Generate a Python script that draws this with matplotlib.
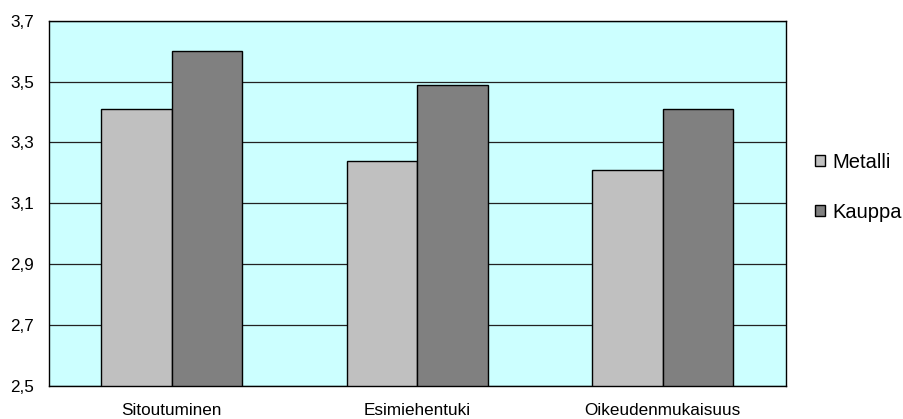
import matplotlib.pyplot as plt
import numpy as np

categories = ["Sitoutuminen", "Esimiehentuki", "Oikeudenmukaisuus"]
metalli = [3.41, 3.24, 3.21]
kauppa = [3.60, 3.49, 3.41]
y_ticks = [2.5, 2.7, 2.9, 3.1, 3.3, 3.5, 3.7]
y_labels = ["2,5", "2,7", "2,9", "3,1", "3,3", "3,5", "3,7"]

plt.rcParams['font.family'] = ['Liberation Sans', 'DejaVu Sans']

fig = plt.figure(figsize=(9.04, 4.19), dpi=100)
ax = fig.add_axes([0.0539, 0.0788, 0.8152, 0.8718])
ax.set_facecolor("#CCFFFF")

x = np.arange(len(categories))
width = 0.287
ax.bar(x - width / 2, [v - 2.5 for v in metalli], width, bottom=2.5,
       color="#C0C0C0", edgecolor="black", linewidth=1.0, label="Metalli", zorder=3)
ax.bar(x + width / 2, [v - 2.5 for v in kauppa], width, bottom=2.5,
       color="#808080", edgecolor="black", linewidth=1.0, label="Kauppa", zorder=3)

ax.set_xlim(-0.5, len(categories) - 0.5)
ax.set_ylim(2.5, 3.7)
ax.set_yticks(y_ticks)
ax.set_yticklabels(y_labels, fontsize=12.3)
ax.set_xticks(x)
ax.set_xticklabels(categories, fontsize=12.3)
ax.tick_params(axis="both", length=0)
ax.tick_params(axis="y", pad=10.5)
ax.tick_params(axis="x", pad=12)
ax.yaxis.grid(True, color="#222222", linewidth=0.9, zorder=1)
ax.set_axisbelow(True)
for spine in ax.spines.values():
    spine.set_color("black")
    spine.set_linewidth(1.0)

fig.legend(loc="upper left", bbox_to_anchor=(0.893, 0.655), frameon=False,
           fontsize=14.5, handlelength=0.5, handleheight=0.5,
           handletextpad=0.35, labelspacing=1.55, borderaxespad=0)

fig.savefig("out.png", dpi=100)
